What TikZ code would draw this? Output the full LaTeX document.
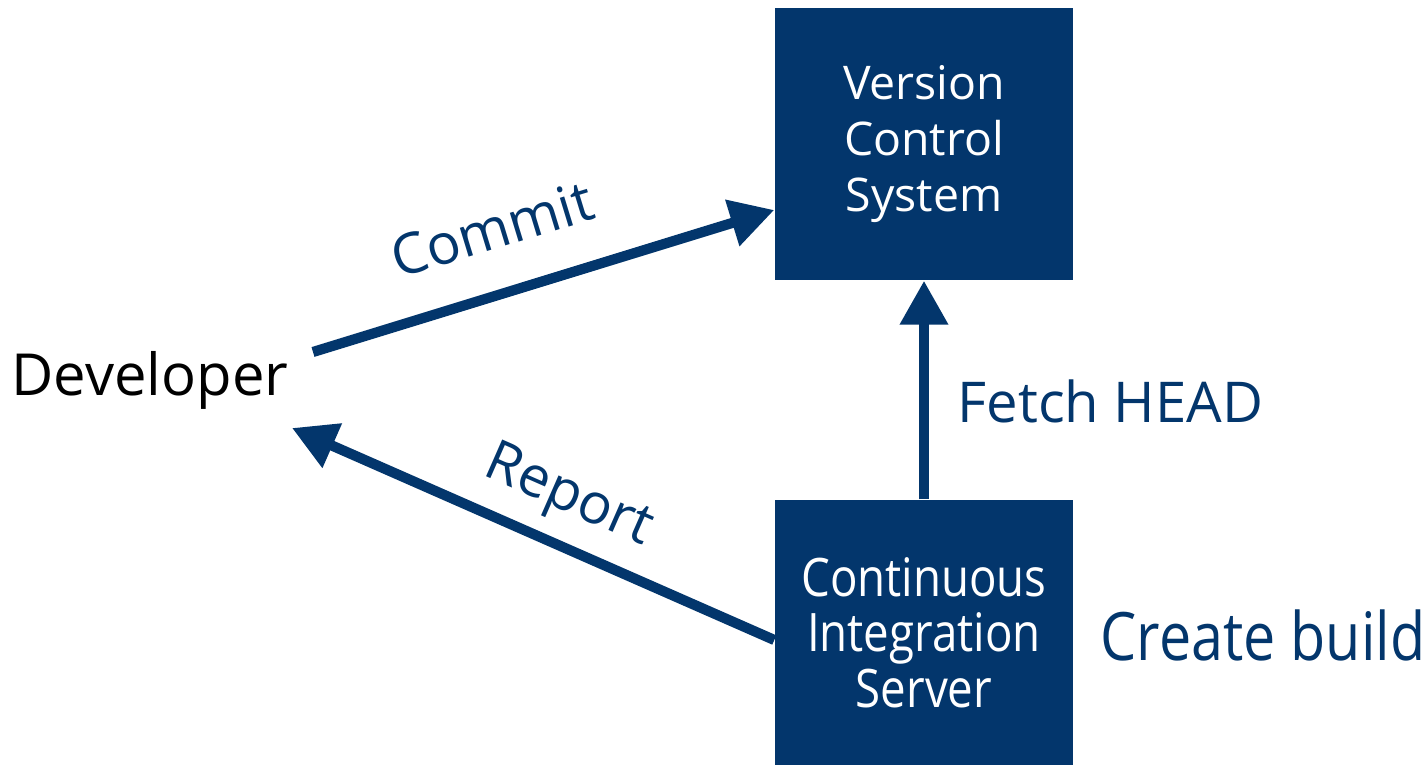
\documentclass[tikz,border=0pt]{standalone}
\usepackage{fontspec}
\setmainfont{Open Sans}
\newfontfamily\narrowfont[FakeStretch=0.86]{Open Sans}
\usetikzlibrary{arrows.meta,positioning,calc}
\definecolor{Navy}{HTML}{03366C}
\tikzset{sysbox/.style={fill=Navy,text=white,align=center,minimum width=2.98cm,
    inner sep=0pt,font=\fontsize{13.2}{16}\selectfont},
  flow/.style={-{Triangle[length=4.4mm,width=4.6mm]},line width=2.9pt,draw=Navy},
  flowlabel/.style={text=Navy,inner sep=0pt,font=\fontsize{16}{20}\selectfont}}

\begin{document}
\begin{tikzpicture}[x=1cm,y=1cm]
    \useasboundingbox (0,0) rectangle (14.26,7.65);
    \node[sysbox,minimum height=2.72cm] (vcs) at (9.24,6.21) {Version\\Control\\System};
    \node[sysbox,minimum height=2.65cm,font=\narrowfont\fontsize{15.1}{15.8}\selectfont] (ci) at (9.24,1.325)
      {Continuous\\Integration\\Server};
    \node[font=\fontsize{16.5}{20}\selectfont] (dev) at (1.5,3.85) {Developer};
    \coordinate (commitstart) at (3.13,4.13);
    \coordinate (reportend) at (2.92,3.37);
    % arrows between developer and the two servers
    \draw[flow] (commitstart) -- ([yshift=-6.6mm]vcs.west);
    \draw[flow] ([yshift=-0.75mm]ci.west) -- (reportend);
    \draw[flow] (ci.north) -- (vcs.south);
    \node[flowlabel,rotate=17] (commit) at (4.92,5.36) {Commit};
    \node[flowlabel,rotate=-23.7] (report) at (5.68,2.67) {Report};
    \node[flowlabel,anchor=west] (fetch) at (9.57,3.64) {Fetch HEAD};
    \node[flowlabel,anchor=west,font=\narrowfont\fontsize{19}{20}\selectfont] (build) at (11.0,1.3) {Create build};
  \end{tikzpicture}
\end{document}
